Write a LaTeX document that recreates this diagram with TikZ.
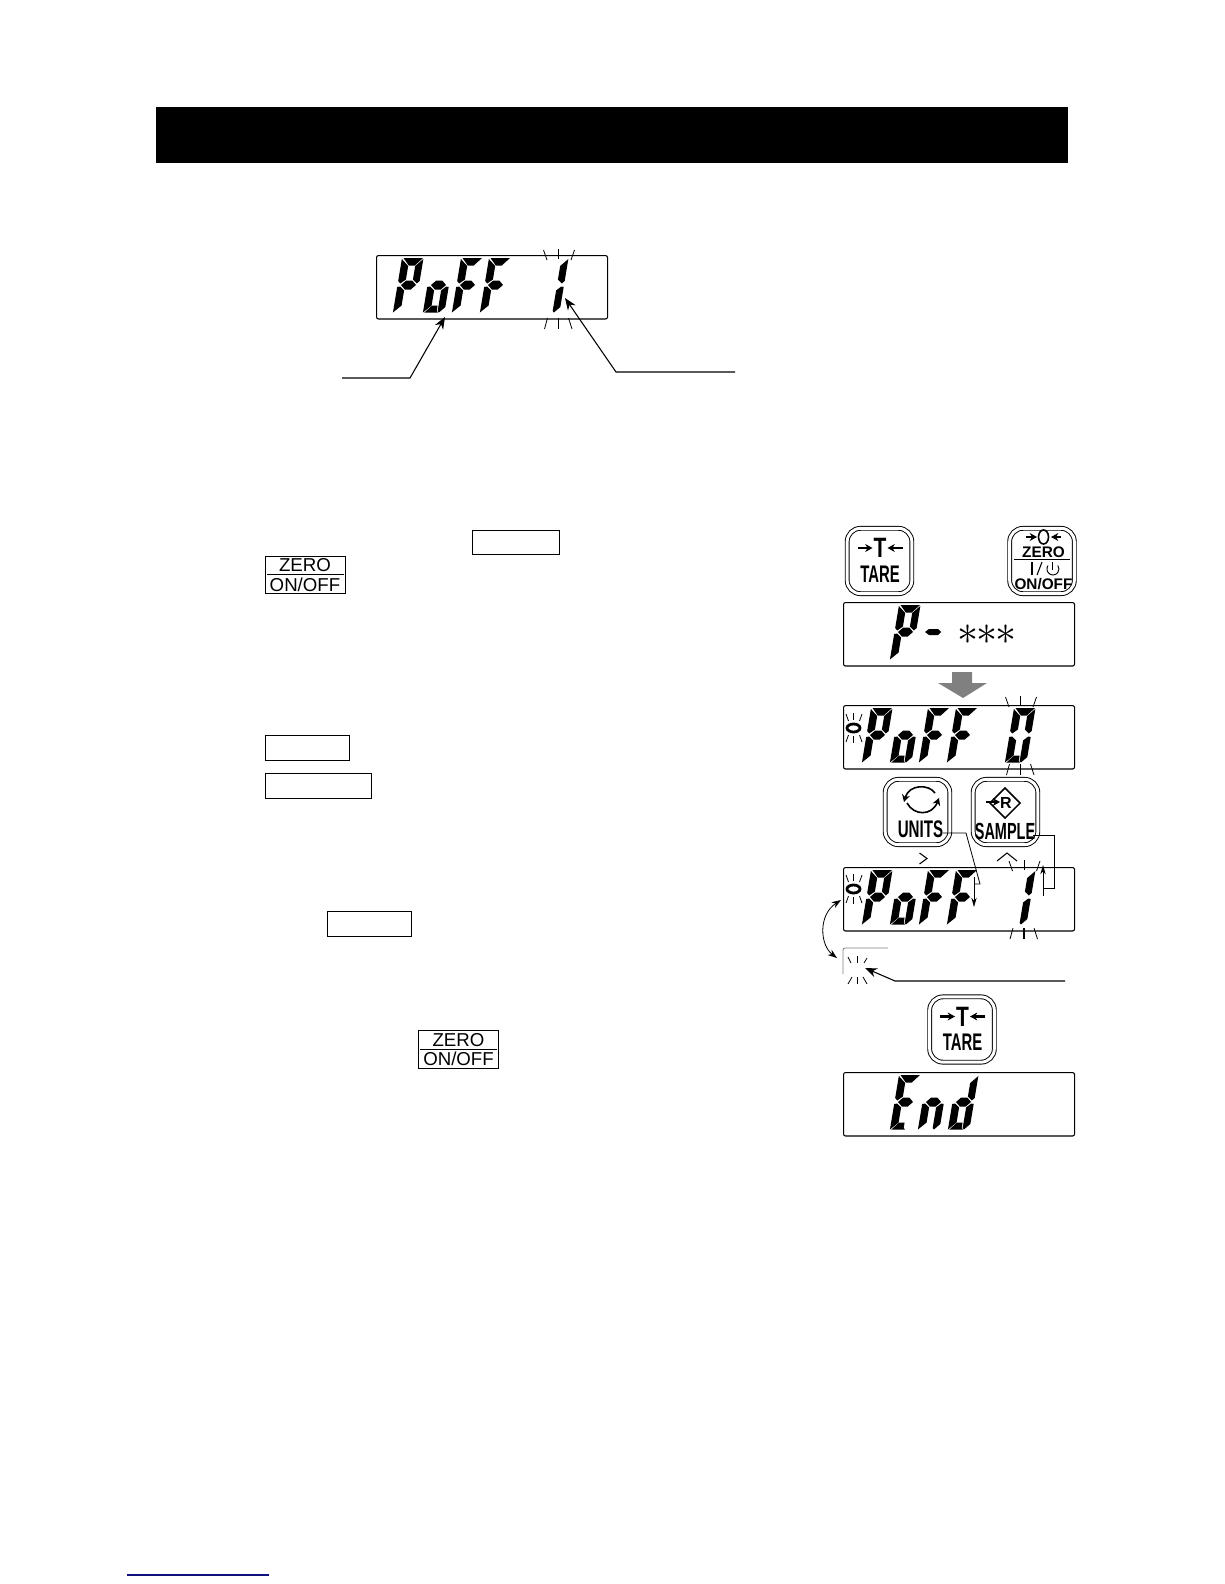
\documentclass[tikz,border=0pt]{standalone}
\usepackage{fontspec}
\setmainfont{Liberation Sans}
\usepackage{xcolor}
\usetikzlibrary{arrows.meta,positioning,shapes.geometric}
\definecolor{manualblue}{HTML}{10107E}
\definecolor{blockgray}{HTML}{808080}

% one slanted LCD character: x, y of its foot, then the segments that are lit
\newcommand{\sega}{(1.5,-54) -- (21,-54) -- (14,-46.5) -- (8,-46.5) -- cycle}
\newcommand{\segb}{(21.5,-53) -- (21.5,-31) -- (19,-28.5) -- (14.5,-32.5) -- (14.5,-46) -- cycle}
\newcommand{\segc}{(21.5,-25) -- (21.5,-5) -- (16,.5) -- (14.5,-1) -- (14.5,-21.5) -- (19,-25.5) -- cycle}
\newcommand{\segd}{(1.5,.5) -- (8,-6.5) -- (13.5,-6.5) -- (13.5,-1) -- (15,.5) -- cycle}
\newcommand{\sege}{(0,-25) -- (3,-25.5) -- (7.5,-21.5) -- (7.5,-6.5) -- (0,.5) -- cycle}
\newcommand{\segf}{(0,-53) -- (7.5,-46) -- (7.5,-32.5) -- (2.5,-28.5) -- (0,-31) -- cycle}
\newcommand{\segg}{(3.5,-27) -- (8,-31.5) -- (14,-31.5) -- (18.5,-27) -- (14,-22.5) -- (8,-22.5) -- cycle}
\newcommand{\lcdglyph}[3]{%
  \begin{scope}[shift={(#1,#2)},xslant=.167]
    \foreach \s in {#3} {\fill \csname seg\s\endcsname;}
  \end{scope}}
% the rays round a flashing part: centre x, top y, bottom y
\newcommand{\blinkrays}[3]{%
  \draw[ray] (#1-15,#2) -- ++(3.5,10);
  \draw[ray] (#1,#2-1) -- ++(0,10);
  \draw[ray] (#1+16,#2) -- ++(-3.5,10);
  \draw[ray] (#1-11,#3) -- ++(-3,11);
  \draw[ray, line width=1.2pt] (#1,#3) -- ++(0,11);
  \draw[ray] (#1+10,#3) -- ++(3.5,11);}
\newcommand{\ringmark}[1]{%
  \draw[line width=2.1pt] (853.5,#1) ellipse (6.5 and 4);
  \draw[ray] (846,#1-14) -- (848.5,#1-7);
  \draw[ray] (853.5,#1-15) -- (853.5,#1-8);
  \draw[ray] (862,#1-14) -- (859.5,#1-7);
  \draw[ray] (848.5,#1+7) -- (846,#1+14);
  \draw[ray] (853.5,#1+8) -- (853.5,#1+15);
  \draw[ray] (859.5,#1+7) -- (862,#1+14);}
\newcommand{\tarekey}[3]{%
  \node[keyface] (#1) at (#2,#3) {};
  \draw[keyarrow] (#2-22,#3-13) -- (#2-7,#3-13);
  \draw[keyarrow] (#2+23,#3-13) -- (#2+8,#3-13);
  \node[keyword, font=\bfseries\fontsize{21}{21}\selectfont] (#1t) at (#2+.5,#3-13) {\scalebox{.75}[1]{T}};
  \node[keyword] (#1l) at (#2+.5,#3+13) {\scalebox{.62}[1]{TARE}};}

\begin{document}
\begin{tikzpicture}[
    x=.75pt, y=-.75pt,
    lcdpanel/.style={draw, line width=.8pt, rounded corners=1.5pt, anchor=north west,
      minimum width=173.25pt, minimum height=47.6pt, inner sep=0pt},
    keyface/.style={draw, double, double distance=2.2pt, line width=.7pt,
      rounded corners=10pt, minimum width=48.5pt, minimum height=49pt, inner sep=0pt},
    keyword/.style={font=\bfseries\fontsize{18}{18}\selectfont, inner sep=0pt},
    keyarrow/.style={-{Stealth[length=5.5pt,width=6pt]}, line width=1.6pt},
    keybox/.style={draw, line width=.8pt, anchor=north west, inner sep=0pt},
    ray/.style={line width=.6pt},
    leader/.style={-{Stealth[length=9pt,width=7pt]}, line width=.8pt},
    thinlead/.style={-{Stealth[length=7pt,width=4pt]}, line width=.6pt},
    zerotext/.style={font=\fontsize{14}{14}\selectfont, inner sep=0pt}
  ]
    \useasboundingbox (0,0) rectangle (1224,1584);

    \fill (156,107) rectangle (1068,163);

    % panel beside the heading
    \node[lcdpanel] (panelmain) at (376,255) {};
    \lcdglyph{393}{312}{a,b,f,g,e}
    \lcdglyph{423}{312}{g,c,d,e}
    \lcdglyph{452}{312}{a,f,g,e}
    \lcdglyph{480}{312}{a,f,g,e}
    \lcdglyph{538}{312}{b,c}
    \blinkrays{558.5}{250}{318}
    \coordinate (labelleft) at (342,378);
    \coordinate (bendleft) at (410,378);
    \coordinate (tipleft) at (445,317);
    \coordinate (labelright) at (735,372);
    \coordinate (bendright) at (616,372);
    \coordinate (tipright) at (565,298);
    \draw[leader] (labelleft) -- (bendleft) -- (tipleft);
    \draw[leader] (labelright) -- (bendright) -- (tipright);

    % key names in the text
    \node[keybox, minimum width=60pt, minimum height=27.5pt] (zerobox) at (265,556) {};
    \draw[line width=.6pt] (267,574.5) -- (344,574.5);
    \node[zerotext] (zeroa) at (305,565.5) {ZERO};
    \node[zerotext] (zerob) at (305,584.5) {ON/OFF};
    \node[keybox, minimum width=65pt, minimum height=18pt] (tarebox) at (472,530) {};
    \node[keybox, minimum width=63pt, minimum height=19pt] (unitsbox) at (265,735) {};
    \node[keybox, minimum width=79.5pt, minimum height=19pt] (samplebox) at (265,773) {};
    \node[keybox, minimum width=63pt, minimum height=19pt] (tareboxb) at (327,911) {};
    \node[keybox, minimum width=60pt, minimum height=28.5pt] (zeroboxb) at (418,1030) {};
    \draw[line width=.6pt] (420,1049.5) -- (497,1049.5);
    \node[zerotext] (zeroc) at (458.5,1040) {ZERO};
    \node[zerotext] (zerod) at (458.5,1059) {ON/OFF};

    % keys and panels of the procedure
    \tarekey{tareone}{879.5}{561}
    \node[keyface] (zerokey) at (1042,561) {};
    \draw[keyarrow] (1026,537) -- (1037,537);
    \draw[keyarrow] (1061,537) -- (1051,537);
    \draw[line width=1.2pt] (1043.5,537) ellipse (5 and 7);
    \node[keyword, font=\bfseries\fontsize{11.5}{11.5}\selectfont] (zerokeya) at (1043.5,552.5) {ZERO};
    \draw[line width=1.1pt] (1014,559.5) -- (1070,559.5);
    \draw[line width=1.3pt] (1032,562) -- (1032,575);
    \draw[line width=.8pt] (1042,562) -- (1037,575);
    \draw[line width=.7pt] (1048,565.5) arc[start angle=215, end angle=-35, radius=6];
    \draw[line width=.7pt] (1052.5,562) -- (1052.5,570);
    \node[keyword, font=\bfseries\fontsize{11.5}{11.5}\selectfont] (zerokeyb) at (1043.5,584.5) {ON/OFF};

    \node[lcdpanel] (panelp) at (843,602) {};
    \lcdglyph{890}{659}{a,b,f,g,e}
    \fill (925,632) -- (929,629) -- (938,629) -- (941,632) -- (938,635) -- (929,635) -- cycle;
    \node[inner sep=0pt] (stars) at (987,635) {\scalebox{3.15}{$\ast{}\mkern-1mu\mathord{\ast}\mkern-1mu\mathord{\ast}$}};

    \fill[blockgray] (952,672) -- (972,672) -- (972,683) -- (987,683) -- (963,698)
      -- (938,683) -- (952,683) -- cycle;

    \node[lcdpanel] (panelzero) at (843,705) {};
    \lcdglyph{862}{762}{a,b,f,g,e}
    \lcdglyph{890}{762}{g,c,d,e}
    \lcdglyph{919}{762}{a,f,g,e}
    \lcdglyph{947}{762}{a,f,g,e}
    \lcdglyph{1005}{762}{a,b,c,d,e,f}
    \blinkrays{1020.5}{697}{764}
    \ringmark{728}

    \node[keyface] (unitskey) at (917.5,812) {};
    \draw[keyarrow, line width=1.2pt] (935,793) .. controls (929,784) and (909,784) .. (904,802);
    \draw[keyarrow, line width=1.2pt] (907,803) .. controls (914,816) and (932,816) .. (939,798);
    \node[keyword] (unitsword) at (920.5,829) {\scalebox{.63}[1]{UNITS}};
    \node[keyface] (samplekey) at (1005.5,812) {};
    \node[draw, diamond, line width=1.1pt, minimum size=23pt, inner sep=0pt] (samplemark) at (1005,803) {};
    \draw[keyarrow] (986,802) -- (1000,802);
    \node[keyword, font=\bfseries\fontsize{12}{12}\selectfont] (samplebold) at (1006,803) {R};
    \node[keyword, font=\bfseries\fontsize{17.5}{17.5}\selectfont] (sampleword) at (1005,831) {\scalebox{.62}[1]{SAMPLE}};

    \draw[line width=.8pt] (919.5,853) -- (927,858.5) -- (919.5,864);
    \draw[line width=.8pt] (997,861) -- (1007,853) -- (1017,861);

    \node[lcdpanel] (panelone) at (843,867) {};
    \lcdglyph{862}{924}{a,b,f,g,e}
    \lcdglyph{890}{924}{g,c,d,e}
    \lcdglyph{919}{924}{a,f,g,e}
    \lcdglyph{947}{924}{a,f,g,e}
    \lcdglyph{1005}{924}{b,c}
    \blinkrays{1024}{861}{928}
    \ringmark{889}

    \coordinate (unitsout) at (943,833);
    \coordinate (unitsbend) at (966,833);
    \coordinate (unitsfoot) at (980,884);
    \coordinate (unitsdrop) at (974,884);
    \coordinate (unitstip) at (974,907);
    \draw[line width=.6pt] (unitsout) -- (unitsbend) -- (unitsfoot) -- (unitsdrop);
    \draw[thinlead] (974,877) -- (unitstip);
    \coordinate (sampleout) at (1033,835);
    \coordinate (samplebend) at (1054,835);
    \coordinate (samplefoot) at (1054,888);
    \coordinate (samplejoin) at (1043,888);
    \coordinate (sampletail) at (1043,896);
    \coordinate (sampletip) at (1043,865);
    \draw[line width=.6pt] (sampleout) -- (samplebend) -- (samplefoot) -- (samplejoin);
    \draw[thinlead] (sampletail) -- (sampletip);

    \coordinate (ringon) at (841,900);
    \coordinate (ringoff) at (837,958);
    \draw[{Stealth[length=7pt,width=5pt]}-{Stealth[length=7pt,width=5pt]}, line width=.6pt]
      (ringon) .. controls (818,915) and (820,945) .. (ringoff);

    \draw[blockgray, line width=.6pt, rounded corners=1.5pt] (888,948) -- (843,948) -- (843,974);
    \draw[ray] (848,957) -- (851,963);
    \draw[ray] (857,956) -- (857,963);
    \draw[ray] (867,958) -- (864,963);
    \draw[ray] (852,977) -- (848,984);
    \draw[ray] (857,977) -- (857,984);
    \draw[ray] (863,977) -- (867,984);
    \coordinate (offlabel) at (1065,981);
    \coordinate (offbend) at (895,981);
    \coordinate (offtip) at (865,968);
    \draw[leader] (offlabel) -- (offbend) -- (offtip);

    \tarekey{taretwo}{962}{1029.5}
    \node[lcdpanel] (panelend) at (843,1072) {};
    \lcdglyph{890}{1129}{a,f,g,e,d}
    \lcdglyph{918}{1129}{g,e,c}
    \lcdglyph{948}{1129}{b,g,c,d,e}

    \coordinate (footleft) at (127,1575);
    \coordinate (footright) at (269,1575);
    \draw[manualblue, line width=.9pt] (footleft) -- (footright);
  \end{tikzpicture}
\end{document}
